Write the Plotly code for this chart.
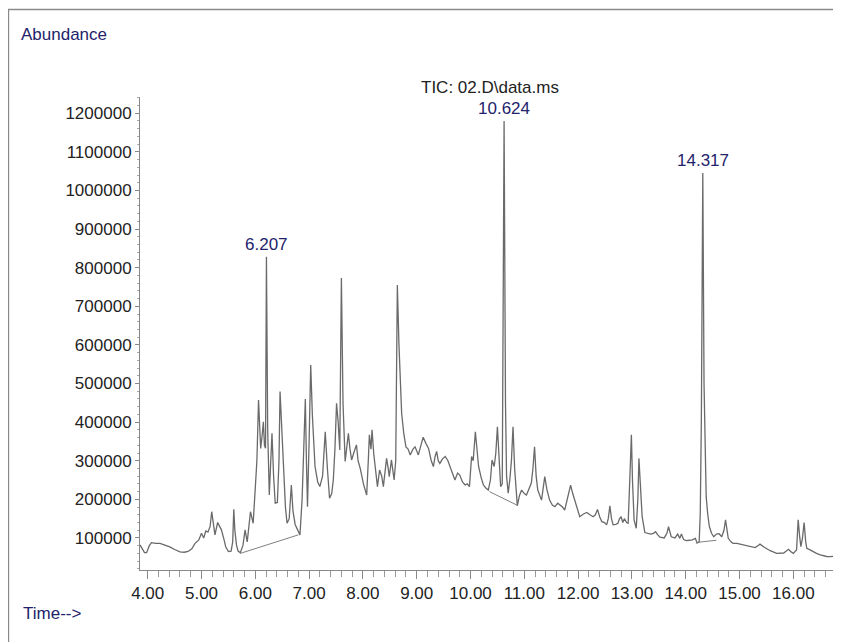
import plotly.graph_objects as go

# ---- data ----
time_min = [3.857, 3.90, 3.94, 3.98, 4.03, 4.07, 4.15, 4.23, 4.30, 4.41, 4.50, 4.60, 4.68, 4.75, 4.82,
            4.88, 4.95, 5.00, 5.04, 5.08, 5.12, 5.16, 5.19, 5.22, 5.25, 5.30, 5.34, 5.37, 5.42, 5.45,
            5.50, 5.55, 5.58, 5.60, 5.62, 5.65, 5.68, 5.72, 5.77, 5.81, 5.85, 5.88, 5.91, 5.94, 5.96,
            6.00, 6.03, 6.06, 6.08, 6.10, 6.13, 6.15, 6.17, 6.19, 6.207, 6.23, 6.26, 6.29, 6.31, 6.34,
            6.37, 6.41, 6.44, 6.46, 6.49, 6.52, 6.56, 6.59, 6.63, 6.67, 6.70, 6.74, 6.77, 6.83, 6.87,
            6.91, 6.93, 6.95, 6.97, 7.00, 7.03, 7.06, 7.09, 7.11, 7.16, 7.20, 7.25, 7.30, 7.34, 7.38,
            7.42, 7.45, 7.48, 7.51, 7.54, 7.57, 7.60, 7.63, 7.67, 7.70, 7.73, 7.76, 7.79, 7.83, 7.88,
            7.91, 7.95, 8.01, 8.07, 8.10, 8.12, 8.15, 8.17, 8.20, 8.27, 8.31, 8.35, 8.38, 8.44, 8.47,
            8.49, 8.53, 8.58, 8.61, 8.64, 8.67, 8.70, 8.72, 8.76, 8.80, 8.84, 8.88, 8.93, 8.97, 9.03,
            9.08, 9.12, 9.17, 9.22, 9.27, 9.31, 9.34, 9.37, 9.40, 9.43, 9.48, 9.53, 9.58, 9.62, 9.67,
            9.71, 9.76, 9.80, 9.85, 9.90, 9.94, 9.98, 10.02, 10.05, 10.09, 10.12, 10.15, 10.20, 10.24, 10.28,
            10.33, 10.37, 10.40, 10.44, 10.47, 10.50, 10.53, 10.56, 10.59, 10.624, 10.65, 10.67, 10.70, 10.73, 10.76,
            10.79, 10.82, 10.85, 10.87, 10.91, 10.95, 11.00, 11.04, 11.08, 11.13, 11.16, 11.19, 11.22, 11.25, 11.32,
            11.35, 11.38, 11.42, 11.47, 11.52, 11.57, 11.62, 11.66, 11.71, 11.75, 11.80, 11.86, 11.90, 11.94, 11.99,
            12.03, 12.10, 12.16, 12.22, 12.28, 12.32, 12.36, 12.40, 12.44, 12.49, 12.53, 12.56, 12.59, 12.62, 12.65,
            12.70, 12.74, 12.77, 12.80, 12.83, 12.86, 12.90, 12.93, 12.96, 12.99, 13.01, 13.04, 13.08, 13.11, 13.13,
            13.16, 13.19, 13.24, 13.30, 13.35, 13.40, 13.44, 13.48, 13.52, 13.60, 13.65, 13.68, 13.73, 13.80, 13.85,
            13.89, 13.92, 13.96, 14.01, 14.07, 14.12, 14.18, 14.21, 14.25, 14.27, 14.29, 14.317, 14.34, 14.36, 14.38,
            14.41, 14.44, 14.48, 14.52, 14.57, 14.62, 14.67, 14.71, 14.74, 14.77, 14.79, 14.84, 14.88, 14.95, 15.01,
            15.10, 15.20, 15.29, 15.34, 15.38, 15.46, 15.57, 15.69, 15.82, 15.87, 15.91, 15.95, 16.00, 16.06, 16.09,
            16.12, 16.14, 16.17, 16.20, 16.23, 16.25, 16.31, 16.37, 16.43, 16.50, 16.56, 16.62, 16.68, 16.75, 16.82]

abundance = [82000, 72000, 62000, 62000, 80000, 88000, 86000, 86000, 83000, 77000, 70000, 64000, 63000, 65000, 72000,
             86000, 95000, 112000, 100000, 118000, 115000, 130000, 168000, 135000, 108000, 140000, 130000, 121000, 95000, 77000,
             65000, 66000, 90000, 174000, 120000, 82000, 66000, 62000, 80000, 121000, 90000, 130000, 168000, 150000, 138000,
             230000, 302000, 457000, 400000, 332000, 370000, 401000, 340000, 332000, 828000, 380000, 211000, 300000, 371000, 260000,
             190000, 192000, 300000, 479000, 400000, 302000, 180000, 138000, 150000, 237000, 170000, 135000, 125000, 108000, 200000,
             400000, 460000, 300000, 181000, 350000, 548000, 420000, 320000, 285000, 245000, 233000, 260000, 375000, 280000, 203000,
             215000, 250000, 330000, 449000, 400000, 328000, 773000, 450000, 298000, 330000, 371000, 330000, 302000, 320000, 341000,
             300000, 280000, 240000, 211000, 300000, 367000, 330000, 380000, 320000, 233000, 276000, 260000, 233000, 306000, 280000,
             259000, 302000, 250000, 300000, 755000, 600000, 470000, 423000, 370000, 336000, 330000, 315000, 330000, 336000, 315000,
             340000, 361000, 345000, 332000, 300000, 285000, 310000, 324000, 300000, 293000, 305000, 311000, 300000, 285000, 265000,
             250000, 268000, 263000, 245000, 237000, 240000, 233000, 311000, 300000, 375000, 320000, 285000, 255000, 237000, 230000,
             224000, 250000, 302000, 285000, 320000, 388000, 300000, 233000, 240000, 1180000, 450000, 260000, 216000, 250000, 300000,
             388000, 280000, 200000, 183000, 210000, 224000, 215000, 211000, 225000, 242000, 280000, 336000, 260000, 224000, 198000,
             225000, 259000, 225000, 198000, 185000, 181000, 190000, 185000, 180000, 172000, 200000, 237000, 215000, 198000, 175000,
             155000, 162000, 166000, 160000, 155000, 160000, 174000, 155000, 142000, 140000, 134000, 150000, 183000, 150000, 134000,
             135000, 138000, 150000, 155000, 140000, 150000, 140000, 138000, 250000, 367000, 250000, 147000, 125000, 200000, 306000,
             220000, 155000, 114000, 112000, 110000, 112000, 116000, 108000, 102000, 100000, 112000, 129000, 103000, 100000, 110000,
             99000, 110000, 96000, 93000, 94000, 95000, 99000, 87000, 90000, 164000, 400000, 1045000, 500000, 280000, 207000,
             160000, 129000, 112000, 103000, 110000, 111000, 103000, 120000, 147000, 115000, 99000, 90000, 86000, 86000, 84000,
             82000, 77500, 75000, 80000, 84000, 76000, 67000, 60000, 61000, 66000, 70700, 65000, 60000, 69000, 147000,
             100000, 77500, 100000, 140000, 90000, 73000, 69000, 64000, 60000, 56000, 53000, 52000, 51500, 52000, 53000]

# integration baselines (start/end)
baseline_time = [[5.72, 6.80], [10.35, 10.88], [14.24, 14.57]]
baseline_abund = [[60000, 108000], [220000, 184000], [89000, 94000]]

# labelled peaks
peak_time = [6.207, 10.624, 14.317]
peak_abund = [828000, 1180000, 1045000]
peak_label = ["6.207", "10.624", "14.317"]

x_tick_vals = [4, 5, 6, 7, 8, 9, 10, 11, 12, 13, 14, 15, 16]
x_tick_text = ["4.00", "5.00", "6.00", "7.00", "8.00", "9.00", "10.00", "11.00", "12.00", "13.00", "14.00", "15.00", "16.00"]
y_tick_vals = [100000, 200000, 300000, 400000, 500000, 600000, 700000, 800000, 900000, 1000000, 1100000, 1200000]
y_tick_text = [str(v) for v in y_tick_vals]

title_text = "TIC: 02.D\\data.ms"

FONT = "Liberation Sans, Arial, Helvetica, sans-serif"
NAVY = "#23236b"
LINE = "#6a6a6a"

fig = go.Figure()
fig.add_trace(go.Scatter(x=time_min, y=abundance, mode="lines",
                         line=dict(color=LINE, width=1.3), showlegend=False, hoverinfo="x+y"))
for bt, ba in zip(baseline_time, baseline_abund):
    fig.add_trace(go.Scatter(x=bt, y=ba, mode="lines",
                             line=dict(color="#808080", width=1), showlegend=False, hoverinfo="skip"))

for t, a, lab in zip(peak_time, peak_abund, peak_label):
    fig.add_annotation(x=t, y=a, text=lab, showarrow=False, yanchor="bottom", yshift=1,
                       font=dict(family=FONT, size=17, color=NAVY))

# plot area: 698 x 473 px
fig.add_annotation(xref="paper", yref="paper", x=0.501, y=1.021, text=title_text, showarrow=False,
                   xanchor="center", yanchor="middle", font=dict(family=FONT, size=17, color="#222222"))
fig.add_annotation(xref="paper", yref="paper", x=-0.174, y=1.133, text="Abundance", showarrow=False,
                   xanchor="left", yanchor="middle", font=dict(family=FONT, size=17, color=NAVY))
fig.add_annotation(xref="paper", yref="paper", x=-0.170, y=-0.093, text="Time-->", showarrow=False,
                   xanchor="left", yanchor="middle", font=dict(family=FONT, size=17, color=NAVY))

# outer frame
fig.add_shape(type="rect", xref="paper", yref="paper", x0=-0.1885, y0=-0.16, x1=1.02, y1=1.185,
              line=dict(color="#8a8a8a", width=1.5), fillcolor="rgba(0,0,0,0)", layer="below")

fig.update_xaxes(range=[3.857, 16.83], tickmode="array", tickvals=x_tick_vals, ticktext=x_tick_text,
                 ticks="outside", ticklen=8, tickcolor="#888888", tickwidth=1,
                 showline=True, linecolor="#888888", linewidth=1, showgrid=False, zeroline=False,
                 tickfont=dict(family=FONT, size=17, color="#222222"),
                 minor=dict(dtick=0.2, tick0=4, ticks="outside", ticklen=6, tickcolor="#999999", showgrid=False))
fig.update_yaxes(range=[17000, 1242000], tickmode="array", tickvals=y_tick_vals, ticktext=y_tick_text,
                 ticks="outside", ticklen=4, tickcolor="#888888", tickwidth=1,
                 showline=True, linecolor="#888888", linewidth=1, showgrid=False, zeroline=False,
                 tickfont=dict(family=FONT, size=17, color="#222222"),
                 minor=dict(dtick=20000, tick0=0, ticks="outside", ticklen=2, tickcolor="#aaaaaa", showgrid=False))

# page body has an 8px margin, so the figure is sized/offset to match the 841x642 window
fig.update_layout(width=833, height=634, autosize=False,
                  margin=dict(l=132, r=3, t=89, b=72),
                  paper_bgcolor="white", plot_bgcolor="white",
                  showlegend=False)

fig.write_html("out.html")
